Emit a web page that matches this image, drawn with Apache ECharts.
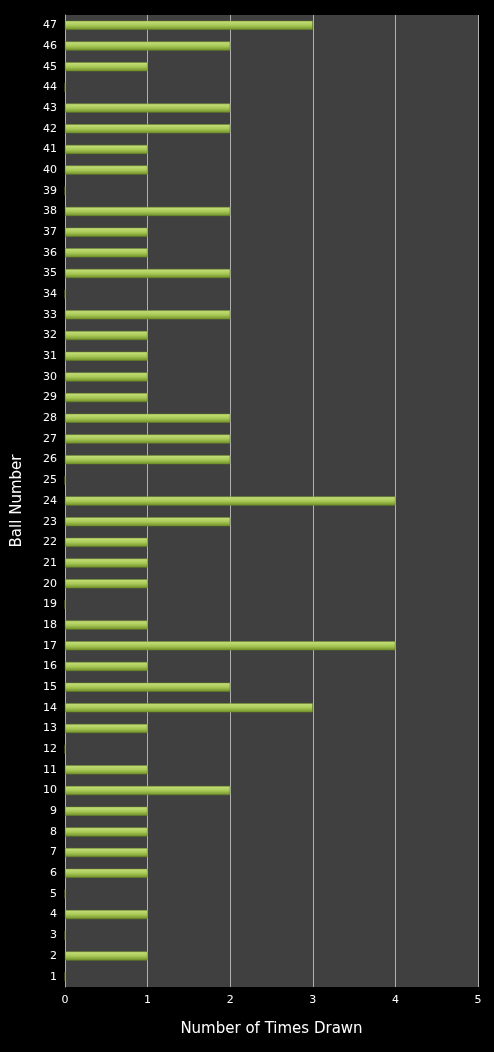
<!DOCTYPE html><html><head><meta charset="utf-8"><script src="https://cdn.jsdelivr.net/npm/echarts@6/dist/echarts.min.js"></script>
<style>html,body{margin:0;background:#000}#c{width:494px;height:1052px}</style></head><body><div id="c"></div><script>
const balls=[];for(let i=1;i<=47;i++)balls.push(String(i));
const timesDrawn=[0,1,0,1,0,1,1,1,1,2,1,0,1,3,2,1,4,1,0,1,1,1,2,4,0,2,2,2,1,1,1,1,2,0,2,1,1,2,0,1,1,2,2,0,1,2,3];
const xTicks=[0,1,2,3,4,5];
const ch=echarts.init(document.getElementById('c'));
ch.setOption({backgroundColor:'#000',animation:false,
grid:{left:65,right:16,top:15,bottom:65,show:true,backgroundColor:'#404040',borderWidth:0},
xAxis:{type:'value',min:0,max:5,interval:1,name:'Number of Times Drawn',nameLocation:'middle',nameGap:35,
nameTextStyle:{color:'#fff',fontSize:15,fontFamily:'DejaVu Sans'},
axisLabel:{color:'#fff',fontSize:11,fontFamily:'DejaVu Sans'},axisLine:{show:false},axisTick:{show:false},
splitLine:{lineStyle:{color:'#b0b0b0',width:1}}},
yAxis:{type:'category',data:balls,name:'Ball Number',nameLocation:'middle',nameGap:40,nameRotate:90,
nameTextStyle:{color:'#fff',fontSize:15,fontFamily:'DejaVu Sans'},
axisLabel:{color:'#fff',fontSize:11,fontFamily:'DejaVu Sans',interval:0},axisTick:{show:false},
axisLine:{lineStyle:{color:'#b0b0b0'}}},
series:[{type:'bar',data:timesDrawn,barWidth:9,
itemStyle:{borderColor:'#6d8a25',borderWidth:0.5,color:new echarts.graphic.LinearGradient(0,0,0,1,[{offset:0,color:'#c8e27e'},{offset:0.5,color:'#a9c957'},{offset:1,color:'#6f8f28'}])}}]});
</script></body></html>
